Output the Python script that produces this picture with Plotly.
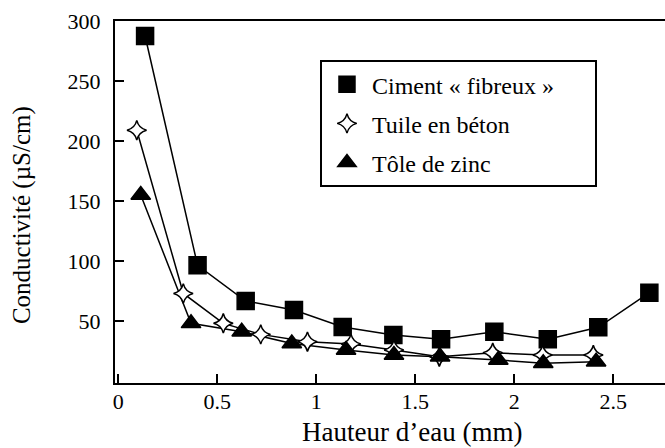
import plotly.graph_objects as go

# Hauteur d'eau (mm) / Conductivité (µS/cm)
ciment_x = [0.135, 0.40, 0.643, 0.887, 1.133, 1.389, 1.63, 1.899, 2.169, 2.424, 2.682]
ciment_y = [287.5, 96.4, 66.7, 59.2, 45.0, 38.4, 34.8, 41.1, 34.8, 44.8, 73.6]

tuile_x = [0.093, 0.328, 0.53, 0.719, 0.955, 1.175, 1.392, 1.621, 1.891, 2.143, 2.399]
tuile_y = [209, 73, 48.1, 38.9, 32.8, 30.9, 25.9, 20.3, 23.6, 21.7, 21.7]

tole_x = [0.113, 0.367, 0.623, 0.876, 1.15, 1.392, 1.625, 1.919, 2.146, 2.413]
tole_y = [155, 48.1, 41.1, 31.4, 25.9, 21.7, 20.3, 17.6, 14.8, 16.1]

x_ticks = [0, 0.5, 1, 1.5, 2, 2.5]
x_ticklabels = ["0", "0.5", "1", "1.5", "2", "2.5"]
y_ticks = [50, 100, 150, 200, 250, 300]

# trailing non-breaking spaces widen the legend box like the original
series = [
    ("Ciment « fibreux »" + "\u00a0" * 6, ciment_x, ciment_y, "square", "black", 17),
    ("Tuile en béton", tuile_x, tuile_y, "star-diamond", "white", 14),
    ("Tôle de zinc", tole_x, tole_y, "triangle-up", "black", 17),
]

FONT = "Liberation Serif, Times New Roman, serif"

fig = go.Figure()
for name, xs, ys, sym, fill, size in series:
    fig.add_trace(go.Scatter(x=xs, y=ys, mode="lines", showlegend=False,
                             line=dict(color="black", width=1.5), hoverinfo="skip"))
for i, (name, xs, ys, sym, fill, size) in enumerate(series):
    fig.add_trace(go.Scatter(x=xs, y=ys, mode="markers", name=name, legendgroup=str(i),
                             marker=dict(symbol=sym, size=size, color=fill,
                                         line=dict(color="black", width=1.5))))

fig.update_layout(
    width=665, height=448,
    margin=dict(l=115, r=0, t=21, b=65),
    paper_bgcolor="white", plot_bgcolor="white",
    font=dict(family=FONT, size=22, color="black"),
    legend=dict(x=0.3727, y=0.892, xanchor="left", yanchor="top",
                bordercolor="black", borderwidth=2, bgcolor="white",
                font=dict(family=FONT, size=24, color="black"),
                tracegroupgap=5, itemwidth=40),
    annotations=[
        dict(text="Hauteur d’eau (mm)", xref="paper", yref="paper", x=0.5395, y=-0.135,
             xanchor="center", yanchor="middle", showarrow=False,
             font=dict(family=FONT, size=27, color="black")),
        dict(text="Conductivité (µS/cm)", xref="paper", yref="paper", x=-0.169, y=0.464,
             xanchor="center", yanchor="middle", showarrow=False, textangle=-90,
             font=dict(family=FONT, size=25, color="black")),
    ],
)
fig.update_xaxes(range=[-0.017, 2.761], tickvals=x_ticks, ticktext=x_ticklabels,
                 ticks="inside", ticklen=9, tickwidth=1.5, tickcolor="black",
                 ticklabelstandoff=-2,
                 showline=True, linecolor="black", linewidth=2, mirror=True,
                 showgrid=False, zeroline=False)
fig.update_yaxes(range=[-1.6, 300], tickvals=y_ticks,
                 ticks="inside", ticklen=9, tickwidth=1.5, tickcolor="black",
                 ticklabelstandoff=8,
                 showline=True, linecolor="black", linewidth=2,
                 showgrid=False, zeroline=False)

fig.write_html("out.html", config={"displayModeBar": False},
               post_script="document.body.style.margin='0';")
